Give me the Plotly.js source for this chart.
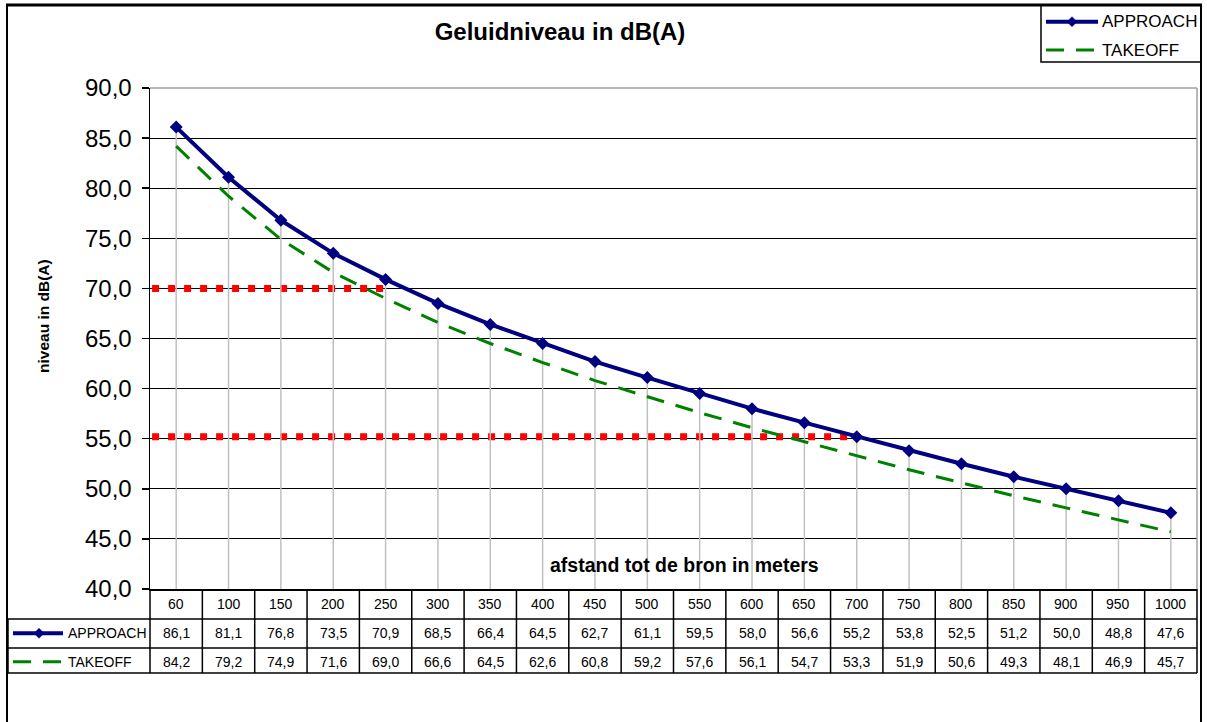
<!DOCTYPE html>
<html><head><meta charset="utf-8">
<script src="https://cdn.plot.ly/plotly-3.0.1.min.js"></script>
<style>html,body{margin:0;padding:0;background:#fff}#chart{width:1207px;height:722px}</style>
</head><body><div id="chart"></div>
<script>
// ---- data ----
const categories = ['60','100','150','200','250','300','350','400','450','500','550','600','650','700','750','800','850','900','950','1000'];
const approach = [86.1,81.1,76.8,73.5,70.9,68.5,66.4,64.5,62.7,61.1,59.5,58.0,56.6,55.2,53.8,52.5,51.2,50.0,48.8,47.6];
const takeoff  = [84.2,79.2,74.9,71.6,69.0,66.6,64.5,62.6,60.8,59.2,57.6,56.1,54.7,53.3,51.9,50.6,49.3,48.1,46.9,45.7];
const seriesNames = ['APPROACH','TAKEOFF'];
const thresholdLevels = [70.0, 55.2];
const thresholdEnds = ['250','700'];
const yRange = [40, 90];
const yStep = 5;

// ---- layout helpers (pixel -> paper) ----
const W = 1207, H = 722, ML = 150, MR = 10, MT = 88, MB = 133;
const PW = W - ML - MR, PH = H - MT - MB;
const xp = px => (px - ML) / PW;
const yp = py => (H - MB - py) / PH;

const FONT = 'Liberation Sans, Arial, sans-serif';
const NAVY = '#000080', GREEN = '#008000', RED = '#FF0000';
const fmt = v => v.toFixed(1).replace('.', ',');

// ---- traces ----
const dropX = [], dropY = [];
categories.forEach((c, i) => { dropX.push(c, c, null); dropY.push(approach[i], yRange[0], null); });

const traces = [
  {x: dropX, y: dropY, mode: 'lines', line: {color: '#C0C0C0', width: 1.5}, hoverinfo: 'skip', showlegend: false},
  {x: categories, y: takeoff, name: seriesNames[1], mode: 'lines', line: {color: GREEN, width: 3, dash: '18px,12px'}, showlegend: false},
  {x: categories, y: approach, name: seriesNames[0], mode: 'lines+markers', line: {color: NAVY, width: 4},
   marker: {symbol: 'diamond', size: 10, color: NAVY}, showlegend: false}
];

// ---- shapes ----
const shapes = [];
const blk = (w) => ({color: '#000', width: w});
// outer frame
shapes.push({type: 'line', xref: 'paper', yref: 'paper', x0: xp(7), x1: xp(7), y0: yp(4), y1: yp(730), line: blk(2)});
shapes.push({type: 'line', xref: 'paper', yref: 'paper', x0: xp(6), x1: xp(1202), y0: yp(5), y1: yp(5), line: blk(3)});
shapes.push({type: 'line', xref: 'paper', yref: 'paper', x0: xp(1201), x1: xp(1201), y0: yp(4), y1: yp(730), line: blk(2)});
// legend box
shapes.push({type: 'rect', xref: 'paper', yref: 'paper', x0: xp(1041), x1: xp(1201), y0: yp(5), y1: yp(62), line: blk(1.5), fillcolor: 'rgba(0,0,0,0)'});
// plot area top / right border (gray)
shapes.push({type: 'line', xref: 'x domain', yref: 'y domain', x0: 0, x1: 1, y0: 1, y1: 1, line: {color: '#A0A0A0', width: 1.5}, layer: 'above'});
shapes.push({type: 'line', xref: 'x domain', yref: 'y domain', x0: 1, x1: 1, y0: 0, y1: 1, line: {color: '#A0A0A0', width: 1.5}, layer: 'above'});
// red threshold lines
thresholdLevels.forEach((lvl, k) => {
  shapes.push({type: 'line', xref: 'x', yref: 'y', x0: -0.46, x1: categories.indexOf(thresholdEnds[k]), y0: lvl, y1: lvl,
    line: {color: RED, width: 7, dash: '7px,9px'}, layer: 'between'});
});
// data table grid
const rowTop = 589, rowLines = [619, 648, 673];
rowLines.forEach(y => shapes.push({type: 'line', xref: 'paper', yref: 'paper', x0: xp(8), x1: 1, y0: yp(y), y1: yp(y), line: blk(1.5)}));
shapes.push({type: 'line', xref: 'paper', yref: 'paper', x0: xp(8), x1: xp(8), y0: yp(619), y1: yp(673), line: blk(1.5)});
shapes.push({type: 'line', xref: 'x domain', yref: 'paper', x0: 0, x1: 0, y0: yp(rowTop), y1: yp(673), line: blk(1.5)});
shapes.push({type: 'line', xref: 'x domain', yref: 'paper', x0: 1, x1: 1, y0: yp(rowTop), y1: yp(673), line: blk(1.5)});
for (let k = 1; k < categories.length; k++) {
  shapes.push({type: 'line', xref: 'x', yref: 'paper', x0: k - 0.5, x1: k - 0.5, y0: yp(rowTop), y1: yp(673), line: blk(1.5)});
}
// legend keys (table column + top-right legend)
function keyApproach(x0, x1, xd, y) {
  shapes.push({type: 'line', xref: 'paper', yref: 'paper', x0: xp(x0), x1: xp(x1), y0: yp(y), y1: yp(y), line: {color: NAVY, width: 4}});
  shapes.push({type: 'path', xref: 'paper', yref: 'paper', xsizemode: 'pixel', ysizemode: 'pixel', xanchor: xp(xd), yanchor: yp(y),
    path: 'M0,-5L5,0L0,5L-5,0Z', fillcolor: NAVY, line: {color: NAVY, width: 0.5}});
}
function keyTakeoff(x0, x1, y) {
  shapes.push({type: 'line', xref: 'paper', yref: 'paper', x0: xp(x0), x1: xp(x1), y0: yp(y), y1: yp(y), line: {color: GREEN, width: 3, dash: '18px,12px'}});
}
keyApproach(13, 63, 39, 633.3);
keyTakeoff(13, 61, 661.7);
keyApproach(1046, 1098, 1072, 21.7);
keyTakeoff(1046, 1094, 50);

// ---- annotations ----
const ann = [];
const t = (text, x, y, size, extra) => Object.assign({text, x, y, xref: 'paper', yref: 'paper', showarrow: false,
  xanchor: 'center', yanchor: 'middle', font: {family: FONT, size, color: '#000'}}, extra || {});
ann.push(t('<b>niveau in dB(A)</b>', xp(43), yp(316), 15.5, {textangle: -90}));
ann.push(t('<b>afstand tot de bron in meters</b>', xp(684.5), yp(565), 19.5));
categories.forEach((c, i) => {
  ann.push(t(c, i, yp(604), 14, {xref: 'x'}));
  ann.push(t(fmt(approach[i]), i, yp(633.3), 14, {xref: 'x'}));
  ann.push(t(fmt(takeoff[i]), i, yp(661.7), 14, {xref: 'x'}));
});
ann.push(t(seriesNames[0], xp(66), yp(633.3), 14, {xanchor: 'left'}));
ann.push(t(seriesNames[1], xp(66), yp(661.7), 14, {xanchor: 'left'}));
ann.push(t(seriesNames[0], xp(1100), yp(21.7), 17, {xanchor: 'left'}));
ann.push(t(seriesNames[1], xp(1100), yp(50), 17, {xanchor: 'left'}));

const layout = {
  width: W, height: H,
  margin: {l: ML, r: MR, t: MT, b: MB, pad: 0},
  paper_bgcolor: '#fff', plot_bgcolor: '#fff',
  separators: ',.',
  font: {family: FONT, color: '#000'},
  title: {text: '<b>Geluidniveau in dB(A)</b>', font: {family: FONT, size: 24, color: '#000'},
    xref: 'container', yref: 'container', x: 560 / W, xanchor: 'center', y: 1 - 32 / H, yanchor: 'middle'},
  showlegend: false,
  xaxis: {type: 'category', categoryorder: 'array', categoryarray: categories, range: [-0.5, categories.length - 0.5],
    showticklabels: false, ticks: '', showgrid: false, zeroline: false,
    showline: true, linecolor: '#000', linewidth: 1.5, fixedrange: true},
  yaxis: {range: yRange, dtick: yStep, tick0: yRange[0], tickformat: '.1f',
    showgrid: true, gridcolor: '#000', gridwidth: 1, zeroline: false,
    showline: true, linecolor: '#000', linewidth: 1.5,
    ticks: 'outside', ticklen: 7, tickwidth: 1.5, tickcolor: '#000', ticklabelstandoff: 5,
    tickfont: {family: FONT, size: 24, color: '#000'}, fixedrange: true},
  shapes, annotations: ann
};

Plotly.newPlot('chart', traces, layout, {displayModeBar: false, staticPlot: true});
</script>
</body></html>
